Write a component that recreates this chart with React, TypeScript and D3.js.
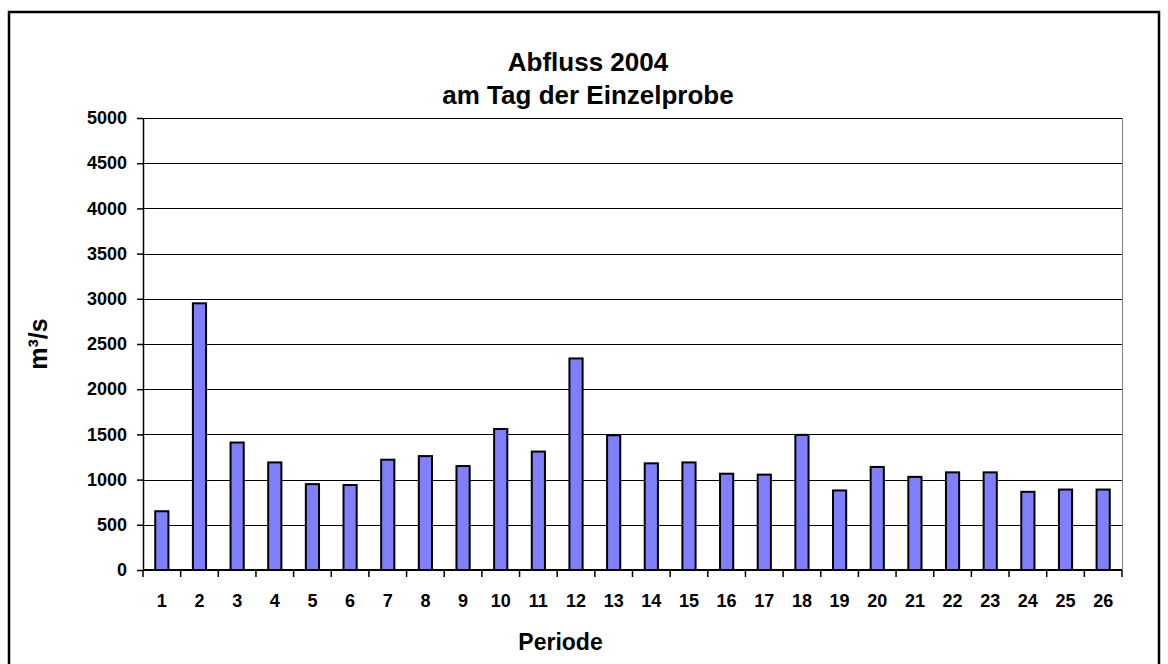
import React, { useEffect, useRef } from 'react';
import * as d3 from 'd3';

// Periode 1..26, Abfluss in m³/s
const periods = d3.range(1, 27).map(String);
const discharge = [
  650, 2950, 1410, 1190, 950, 940, 1220, 1260, 1150, 1560, 1310, 2340, 1490,
  1180, 1190, 1065, 1055, 1495, 880, 1140, 1030, 1080, 1080, 865, 890, 890,
];
const yTicks = d3.range(0, 5001, 500);

const FONT = '"Liberation Sans", Arial, sans-serif';

const App = () => {
  const svgRef = useRef<SVGSVGElement>(null);

  useEffect(() => {
    const svg = d3.select(svgRef.current);
    svg.selectAll('*').remove();

    const W = 1168, H = 664;
    const margin = { top: 118, right: 46, bottom: 94, left: 143 };
    const width = W - margin.left - margin.right;
    const height = H - margin.top - margin.bottom;

    // outer frame
    svg.append('rect')
      .attr('x', 9).attr('y', 12)
      .attr('width', 1150).attr('height', 670)
      .attr('fill', 'white')
      .attr('stroke', 'black')
      .attr('stroke-width', 2.5);

    const g = svg.append('g')
      .attr('transform', `translate(${margin.left},${margin.top})`);

    const x = d3.scaleBand().domain(periods).range([0, width]).paddingInner(0).paddingOuter(0);
    const y = d3.scaleLinear().domain([0, 5000]).range([height, 0]);

    // grid lines
    g.selectAll('.grid')
      .data(yTicks.filter(d => d > 0))
      .enter().append('line')
      .attr('x1', 0).attr('x2', width)
      .attr('y1', d => Math.round(y(d)) + 0.5).attr('y2', d => Math.round(y(d)) + 0.5)
      .attr('stroke', 'black')
      .attr('stroke-width', 1);

    // right plot border (grey)
    g.append('line')
      .attr('x1', width + 0.5).attr('x2', width + 0.5)
      .attr('y1', 0).attr('y2', height)
      .attr('stroke', '#808080');

    // bars
    const bw = x.bandwidth() * 0.35;
    g.selectAll('.bar')
      .data(discharge)
      .enter().append('rect')
      .attr('x', (d, i) => x(periods[i])! + (x.bandwidth() - bw) / 2)
      .attr('y', d => y(d))
      .attr('width', bw)
      .attr('height', d => height - y(d))
      .attr('fill', '#8080FF')
      .attr('stroke', 'black')
      .attr('stroke-width', 2);

    // y axis
    const yAxis = g.append('g')
      .call(d3.axisLeft(y).tickValues(yTicks).tickFormat(d3.format('d')).tickSize(6).tickPadding(10));
    yAxis.select('.domain').attr('stroke', 'black').attr('stroke-width', 1.5).attr('d', `M0.5,0V${height}`);
    yAxis.selectAll('line').attr('stroke', 'black').attr('stroke-width', 1.5);
    yAxis.selectAll('text')
      .attr('font-family', FONT)
      .attr('font-size', 18)
      .attr('font-weight', 'bold')
      .attr('fill', 'black');

    // x axis: ticks on category boundaries
    const xAxis = g.append('g').attr('transform', `translate(0,${height})`);
    xAxis.append('line')
      .attr('x1', 0).attr('x2', width)
      .attr('y1', 0).attr('y2', 0)
      .attr('stroke', 'black').attr('stroke-width', 2);
    const bounds = periods.map(p => x(p)!).concat([width]);
    xAxis.selectAll('.xt')
      .data(bounds)
      .enter().append('line')
      .attr('x1', d => d).attr('x2', d => d)
      .attr('y1', 0).attr('y2', 7)
      .attr('stroke', 'black').attr('stroke-width', 1.5);
    xAxis.selectAll('.xl')
      .data(periods)
      .enter().append('text')
      .attr('x', d => x(d)! + x.bandwidth() / 2)
      .attr('y', 37)
      .attr('text-anchor', 'middle')
      .attr('font-family', FONT)
      .attr('font-size', 18)
      .attr('font-weight', 'bold')
      .text(d => d);

    // title
    const title = svg.append('text')
      .attr('x', 588)
      .attr('text-anchor', 'middle')
      .attr('font-family', FONT)
      .attr('font-size', 26)
      .attr('font-weight', 'bold');
    title.append('tspan').attr('x', 588).attr('y', 71).text('Abfluss 2004');
    title.append('tspan').attr('x', 588).attr('y', 104).text('am Tag der Einzelprobe');

    // axis titles
    svg.append('text')
      .attr('x', margin.left + width / 2 - 72)
      .attr('y', 650)
      .attr('text-anchor', 'middle')
      .attr('font-family', FONT)
      .attr('font-size', 23)
      .attr('font-weight', 'bold')
      .text('Periode');

    svg.append('text')
      .attr('transform', `translate(47,${margin.top + height / 2}) rotate(-90)`)
      .attr('text-anchor', 'middle')
      .attr('font-family', FONT)
      .attr('font-size', 25)
      .attr('font-weight', 'bold')
      .text('m³/s');
  }, []);

  return (
    <svg
      ref={svgRef}
      width={1168}
      height={664}
      style={{ position: 'absolute', left: 0, top: 0, background: 'white' }}
    />
  );
};

export default App;
